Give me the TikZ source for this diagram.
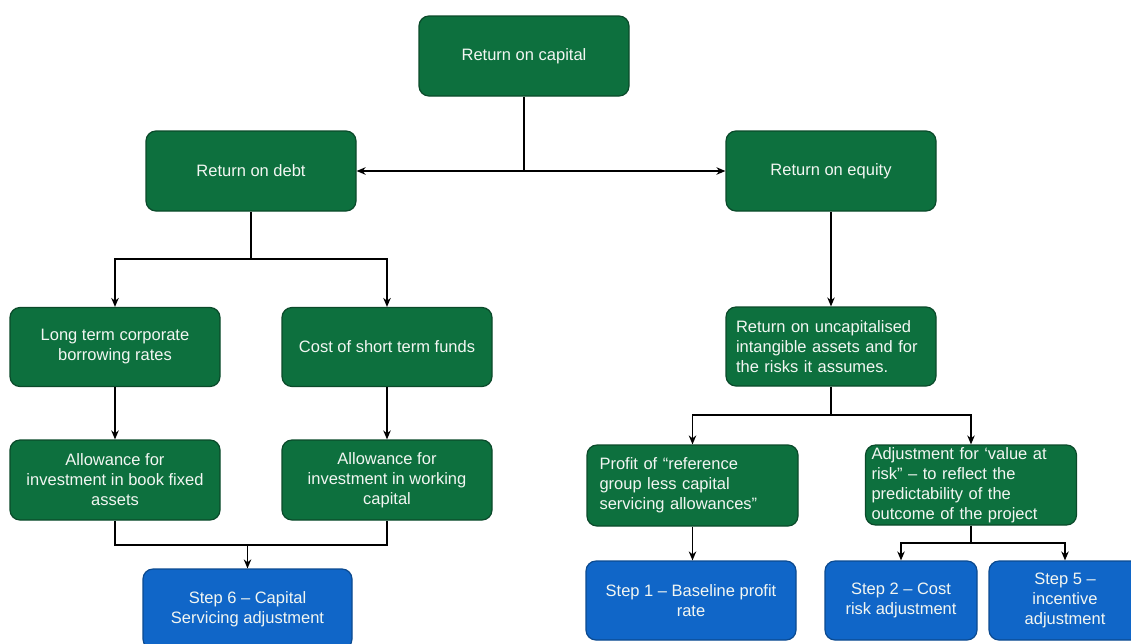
\documentclass[tikz,border=0pt]{standalone}
\usepackage{fontspec}
\setmainfont{Liberation Sans}
\usepackage{xcolor}
\usepackage{tikz}
\usetikzlibrary{arrows.meta,calc}
\definecolor{boxgreen}{HTML}{0D703E}
\definecolor{edgegreen}{HTML}{0A4A2A}
\definecolor{boxblue}{HTML}{1066C8}
\definecolor{edgeblue}{HTML}{0B4A90}
\definecolor{boxtext}{HTML}{F2F6F2}
\tikzset{
  box/.style={rounded corners=10pt, line width=1.2pt, text=boxtext,
    inner sep=6pt, align=center,
    font=\fontsize{16.5}{20}\selectfont},
  gbox/.style={box, fill=boxgreen, draw=edgegreen},
  bbox/.style={box, fill=boxblue, draw=edgeblue},
  link/.style={line width=1.5pt, draw=black},
  arr/.style={link, -{Stealth[length=9pt,width=7.5pt]}},
  biarr/.style={link, {Stealth[length=9pt,width=7.5pt]}-{Stealth[length=9pt,width=7.5pt]}}
}

\begin{document}
\begin{tikzpicture}[x=1pt,y=-1pt]
  \useasboundingbox (0,0) rectangle (1131,643);
  \clip (0,0) rectangle (1131,643);

  % Top level
  \node[gbox, minimum width=210pt, minimum height=80pt] (cap) at (524,56) {Return on capital};
  \node[gbox, minimum width=210pt, minimum height=80pt] (debt) at (251,171) {Return on debt};
  \node[gbox, minimum width=210pt, minimum height=80pt] (equity) at (831,171) {Return on equity};

  % Debt branch
  \node[gbox, minimum width=210pt, minimum height=79pt] (longterm) at (115,347) {Long term corporate\\borrowing rates};
  \node[gbox, minimum width=210pt, minimum height=79pt] (shortterm) at (387,347) {Cost of short term funds};
  \node[gbox, minimum width=210pt, minimum height=80pt] (allowbook) at (115,480) {Allowance for\\investment in book fixed\\assets};
  \node[gbox, minimum width=210pt, minimum height=80pt] (allowwc) at (387,480) {Allowance for\\investment in working\\capital};
  \node[bbox, minimum width=209pt, minimum height=80pt] (stepsix) at (247.5,609) {Step 6 -- Capital\\Servicing adjustment};

  % Equity branch
  \node[gbox, minimum width=210pt, minimum height=79pt, align=left, text width=190pt] (uncap) at (831,346.5)
    {Return on uncapitalised\\intangible assets and for\\the risks it assumes.};
  \node[gbox, minimum width=211pt, minimum height=81pt, align=left, text width=186pt] (profit) at (692.5,485.5)
    {Profit of “reference\\group less capital\\servicing allowances”};
  \node[gbox, minimum width=211pt, minimum height=80pt, align=left, text width=199pt, inner sep=0pt] (adjust) at (971,485)
    {Adjustment for ‘value at\\risk” -- to reflect the\\predictability of the\\outcome of the project};
  \node[bbox, minimum width=210pt, minimum height=79pt] (stepone) at (691,600.5) {Step 1 -- Baseline profit\\rate};
  \node[bbox, minimum width=152pt, minimum height=79pt] (steptwo) at (901,600.5) {Step 2 -- Cost\\risk adjustment};
  \node[bbox, minimum width=152pt, minimum height=79pt] (stepfive) at (1065,600.5) {Step 5 --\\incentive\\adjustment};

  % Junctions
  \coordinate (j0) at (524,171);
  \coordinate (j1) at (251,259);
  \coordinate (j2) at (247.5,545);
  \coordinate (j3) at (831,415);
  \coordinate (j4) at (971,543);

  % Connectors
  \draw[link] (cap) -- (j0);
  \draw[biarr] (debt) -- (equity);
  \draw[link] (debt) -- (j1);
  \draw[arr] (j1) -| (longterm);
  \draw[arr] (j1) -| (shortterm);
  \draw[arr] (longterm) -- (allowbook);
  \draw[arr] (shortterm) -- (allowwc);
  \draw[link] (allowbook) |- (j2) -| (allowwc);
  \draw[arr] (j2) -- (stepsix);
  \draw[arr] (equity) -- (uncap);
  \draw[link] (uncap) -- (j3);
  \draw[arr] (j3) -| (profit);
  \draw[arr] (j3) -| (adjust);
  \draw[arr] (profit.south) -- (profit.south |- stepone.north);
  \draw[link] (adjust) -- (j4);
  \draw[arr] (j4) -| (steptwo);
  \draw[arr] (j4) -| (stepfive);
\end{tikzpicture}
\end{document}
